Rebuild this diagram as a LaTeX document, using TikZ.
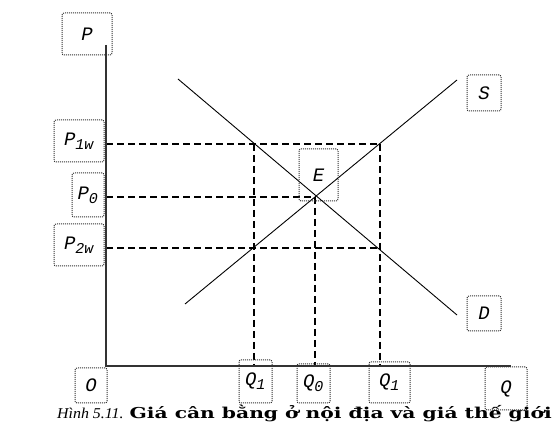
\documentclass[tikz,border=0pt]{standalone}
\usepackage{fontspec}
\setmainfont{DejaVu Serif}
\newfontfamily\labfont{Liberation Mono}
\newfontfamily\capfont{Liberation Serif}
\usetikzlibrary{calc}
\tikzset{
  lab/.style={draw=black!80, line width=1pt, dash pattern=on 1pt off 1pt, rounded corners=2pt, inner sep=0pt,
    font=\labfont\itshape\fontsize{19}{19}\selectfont, text=black},
  axisline/.style={line width=1.8pt, draw=black!80},
  curve/.style={line width=0.9pt, draw=black},
  guide/.style={line width=1.2pt, draw=black, dash pattern=on 7pt off 4pt},
}
\newcommand{\sbx}[1]{\textsubscript{\fontsize{15}{15}\selectfont #1}}
\begin{document}
\begin{tikzpicture}[x=1pt,y=-1pt]
\useasboundingbox (0,0) rectangle (555,427);
% key points
\coordinate (O) at (106,366);
\coordinate (Ptop) at (106,45);
\coordinate (Qend) at (511,366);
\coordinate (E) at (315,197);
\coordinate (A) at (254,144);   % demand at P1w
\coordinate (B) at (380,144);   % supply at P1w
\coordinate (C) at (254,248);   % supply at P2w
\coordinate (F) at (380,248);   % demand at P2w
\coordinate (Ss) at (185,304);
\coordinate (Se) at (457,80);
\coordinate (Ds) at (178,79);
\coordinate (De) at (457,315);
% guides
\draw[guide] (O|-A) -- (B);
\draw[guide] (O|-E) -- (E);
\draw[guide] (O|-C) -- (F);
\draw[guide] (A) -- (A|-O);
\draw[guide] (E) -- (E|-O);
\draw[guide] (B) -- (B|-O);
% curves
\draw[curve] (Ss) -- (Se);
\draw[curve] (Ds) -- (De);
% axes
\draw[axisline] (Ptop) -- (O) -- (Qend);
% labels
\node[lab, minimum width=50pt, minimum height=42pt] (lP) at (87,34) {P};
\node[lab, minimum width=50pt, minimum height=42pt] (lP1) at (79,141) {P\sbx{1w}};
\node[lab, minimum width=32pt, minimum height=44pt] (lP0) at (88,195) {P\sbx{0}};
\node[lab, minimum width=50pt, minimum height=42pt] (lP2) at (79,245) {P\sbx{2w}};
\node[lab, minimum width=39pt, minimum height=52pt] (lE) at (318.5,175) {E};
\node[lab, minimum width=34pt, minimum height=36pt] (lS) at (484,93) {S};
\node[lab, minimum width=34pt, minimum height=35pt] (lD) at (484,313.5) {D};
\node[lab, minimum width=32pt, minimum height=35pt] (lO) at (91,385.5) {O};
\node[lab, minimum width=33pt, minimum height=43pt] (lQ1) at (255.5,381.5) {Q\sbx{1}};
\node[lab, minimum width=33pt, minimum height=39pt] (lQ0) at (313.5,383.5) {Q\sbx{0}};
\node[lab, minimum width=41pt, minimum height=41pt] (lQ1b) at (389.5,382.5) {Q\sbx{1}};
\node[lab, minimum width=42pt, minimum height=43pt] (lQ) at (506,388.5) {Q};
% caption
\node[anchor=base west, inner sep=0pt] (cap) at (57,419)
  {\fontsize{15}{15}\selectfont\scalebox{1.06}[1]{\capfont\itshape Hình 5.11.}\hspace{6pt}\scalebox{1.35}[1]{\bfseries Giá cân bằng ở nội địa và giá thế giới}};
\end{tikzpicture}
\end{document}
